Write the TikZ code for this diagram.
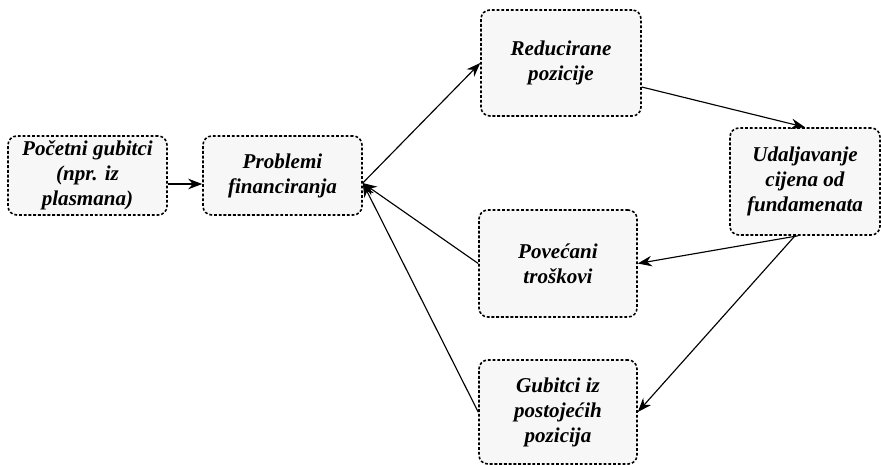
\documentclass[tikz,border=0pt]{standalone}
\usepackage{fontspec}
\setmainfont{Liberation Serif}[BoldItalicFont={Liberation Serif Bold Italic}]
\usetikzlibrary{arrows.meta}
\definecolor{boxfill}{HTML}{F7F7F7}
\begin{document}
\begin{tikzpicture}[
        x=0.02cm, y=-0.02cm,
        box/.style={draw, fill=boxfill, rounded corners=5pt, line width=0.9pt,
            dash pattern=on 1.6pt off 1.1pt, align=center,
            font=\fontsize{12}{14.2}\selectfont\bfseries\itshape,
            inner sep=0pt},
        link/.style={-{Stealth[length=8pt,width=6pt]}, line width=0.65pt}
    ]
        \useasboundingbox (0,0) rectangle (881,464);
        \node[box, minimum width=3.18cm, minimum height=1.58cm] (poc) at (87.5,175.5) {Početni gubitci\\(npr. iz\\plasmana)};
        \node[box, minimum width=3.18cm, minimum height=1.58cm] (fin) at (282.5,175.5) {Problemi\\financiranja};
        \node[box, minimum width=3.2cm, minimum height=2.12cm] (red) at (561,63) {Reducirane\\pozicije};
        \node[box, minimum width=3.0cm, minimum height=2.14cm] (uda) at (805,181.5) {Udaljavanje\\cijena od\\fundamenata};
        \node[box, minimum width=3.16cm, minimum height=2.14cm] (pov) at (558,263.5) {Povećani\\troškovi};
        \node[box, minimum width=3.16cm, minimum height=2.08cm] (gub) at (558,412) {Gubitci iz\\postojećih\\pozicija};
        \coordinate (finR) at ([yshift=-0.15cm]fin.east);
        \draw[link] ([yshift=-0.17cm]poc.east) -- ([yshift=-0.17cm]fin.west);
        \draw[link] (finR) -- (red.west);
        \draw[link] ([yshift=-0.48cm]red.east) -- (uda.north);
        \draw[link] ([xshift=-0.14cm]uda.south) -- (pov.east);
        \draw[link] ([xshift=-0.2cm]uda.south) -- (gub.east);
        \draw[link] (pov.west) -- (finR);
        \draw[link] (gub.west) -- (finR);
    \end{tikzpicture}
\end{document}
